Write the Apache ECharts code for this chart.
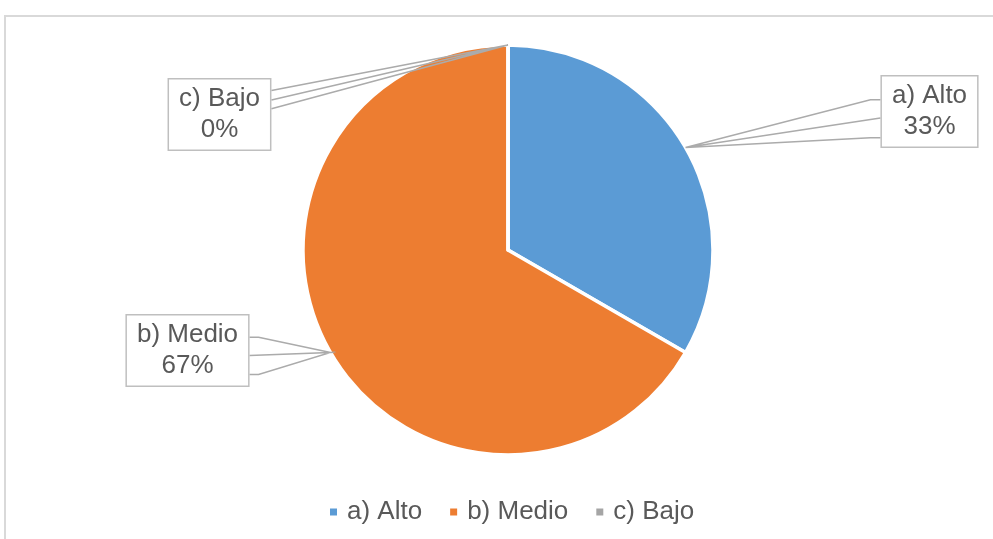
<!DOCTYPE html>
<html>
<head>
<meta charset="utf-8">
<script src="https://cdn.jsdelivr.net/npm/echarts@6/dist/echarts.min.js"></script>
<style>
  html, body { margin: 0; padding: 0; background: #ffffff; }
  #chart { width: 993px; height: 539px; }
</style>
</head>
<body>
<div id="chart"></div>
<script>
// Category names and response counts
const categories = ['a) Alto', 'b) Medio', 'c) Bajo'];
const counts = [1, 2, 0];
const colors = ['#5B9BD5', '#ED7D31', '#A5A5A5'];

// Callout boxes: centre, side of the box the wedge leaves from,
// wedge attachment points (fractions of box height) and stub length
const callouts = [
  { cx: 929.5, cy: 111.5, side: 'left',  wedge: [0.34, 0.59, 0.86], stub: 10 },
  { cx: 187.5, cy: 350.5, side: 'right', wedge: [0.32, 0.57, 0.83], stub: 9 },
  { cx: 219.5, cy: 114.5, side: 'right', wedge: [0.17, 0.30, 0.42], stub: 0 }
];

const FONT = '"Liberation Sans", Arial, sans-serif';
const TEXT = '#595959';
const CENTER = [508, 250];
const RADIUS = 205;

// Mid-angle of each slice (clockwise from 12 o'clock) -> point on the rim
const total = counts.reduce((a, b) => a + b, 0);
const anchors = (function () {
  let acc = 0;
  return counts.map(v => {
    const mid = (acc + v / 2) / total * 2 * Math.PI;
    acc += v;
    return [CENTER[0] + RADIUS * Math.sin(mid), CENTER[1] - RADIUS * Math.cos(mid)];
  });
})();

// Wedge outlines of the callouts, filled in while the labels are laid out
const wedgePaths = [];

const frame = {
  type: 'rect',
  shape: { x: 5, y: 16, width: 1200, height: 700 },
  style: { fill: 'none', stroke: '#d9d9d9', lineWidth: 2 },
  silent: true,
  z: -10
};

const chart = echarts.init(document.getElementById('chart'), null, { renderer: 'canvas' });

chart.setOption({
  animation: false,
  backgroundColor: '#ffffff',
  color: colors,
  graphic: [frame],
  legend: {
    data: categories,
    left: 323,
    top: 494,
    icon: 'rect',
    itemWidth: 9,
    itemHeight: 9,
    itemGap: 26,
    selectedMode: false,
    textStyle: { color: TEXT, fontSize: 26, fontFamily: FONT, padding: [0, 0, 0, 4] }
  },
  series: [{
    type: 'pie',
    center: CENTER,
    radius: RADIUS,
    startAngle: 90,
    clockwise: true,
    percentPrecision: 0,
    avoidLabelOverlap: false,
    emphasis: { disabled: true },
    itemStyle: { borderColor: '#ffffff', borderWidth: 3.5 },
    data: categories.map((name, i) => ({ name: name, value: counts[i] })),
    label: {
      show: true,
      position: 'outside',
      formatter: '{b}\n{d}%',
      color: TEXT,
      fontSize: 26,
      lineHeight: 31,
      fontFamily: FONT,
      align: 'center',
      backgroundColor: '#ffffff',
      borderColor: '#bfbfbf',
      borderWidth: 1.5,
      padding: [4, 10]
    },
    labelLine: { show: false },
    labelLayout: function (p) {
      const c = callouts[p.dataIndex];
      const w = p.labelRect.width;
      const h = p.labelRect.height;
      const anchor = anchors[p.dataIndex];
      const dir = c.side === 'left' ? -1 : 1;
      const edge = c.cx + dir * w / 2;
      const top = c.cy - h / 2;
      const ys = c.wedge.map(f => top + f * h);
      const s = c.stub * dir;
      wedgePaths[p.dataIndex] = [
        [edge, ys[0]], [edge + s, ys[0]], anchor,
        [edge, ys[1]], anchor,
        [edge + s, ys[2]], [edge, ys[2]]
      ];
      return { x: c.cx, y: c.cy, align: 'center', verticalAlign: 'middle' };
    }
  }]
});

// Callout wedges drawn above the slices
chart.setOption({
  graphic: [frame].concat(wedgePaths.map(pts => ({
    type: 'polyline',
    shape: { points: pts },
    style: { fill: 'none', stroke: '#ababab', lineWidth: 1.5 },
    silent: true,
    z: 50
  })))
});
</script>
</body>
</html>
